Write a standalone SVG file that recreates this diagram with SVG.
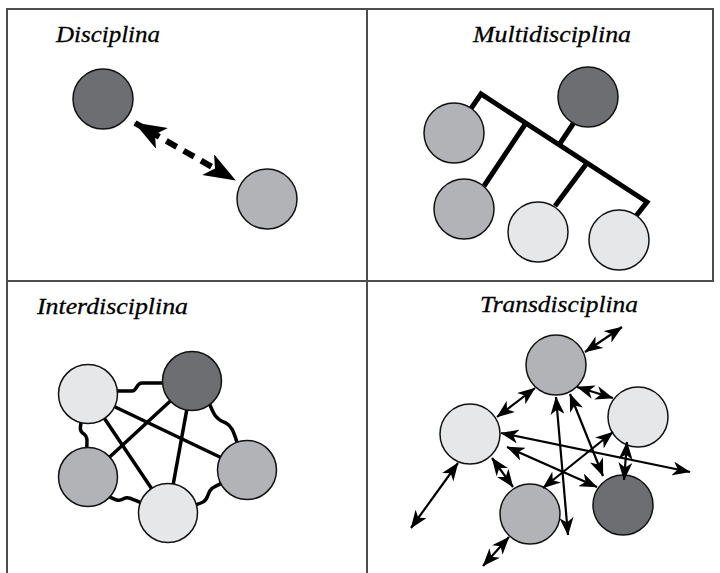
<svg xmlns="http://www.w3.org/2000/svg" width="720" height="573" viewBox="0 0 720 573">
  <style>
    .frame { stroke: #4d4d4d; stroke-width: 2; fill: none; }
    .title { font-family: "Liberation Serif", "Times New Roman", serif; font-style: italic; font-size: 24px; fill: #000; stroke: #000; stroke-width: 0.3; }
    .node { stroke: #111; stroke-width: 1.5; }
    .dark { fill: #6d6e71; }
    .mid { fill: #b1b3b6; }
    .light { fill: #e6e7e8; }
    .bar { stroke: #000; stroke-width: 5; fill: none; stroke-linejoin: miter; }
    .tie { stroke: #000; stroke-width: 3.5; fill: none; stroke-linejoin: round; }
    .arr { stroke: #000; stroke-width: 2.2; fill: none; }
    .dash { stroke: #000; stroke-width: 6; fill: none; stroke-dasharray: 12 8; stroke-dashoffset: 4; }
  </style>
  <defs>
    <marker id="head" markerUnits="userSpaceOnUse" viewBox="0 0 18 14" refX="17.5" refY="7" markerWidth="18" markerHeight="14" orient="auto-start-reverse">
      <path d="M0,0 L18,7 L0,14 L5,7 z" fill="#000"/>
    </marker>
    <marker id="bighead" markerUnits="userSpaceOnUse" viewBox="0 0 32 24" refX="31" refY="12" markerWidth="32" markerHeight="24" orient="auto-start-reverse">
      <path d="M0,0 L32,12 L0,24 L8,12 z" fill="#000"/>
    </marker>
  </defs>

  <rect width="720" height="573" fill="#fff"/>

  <!-- panel frame -->
  <g id="frame">
    <line class="frame" x1="6" y1="9" x2="714" y2="9"/>
    <line class="frame" x1="7" y1="8" x2="7" y2="573"/>
    <line class="frame" x1="713" y1="8" x2="713" y2="282"/>
    <line class="frame" x1="6" y1="281" x2="714" y2="281"/>
    <line class="frame" x1="367" y1="8" x2="367" y2="573"/>
  </g>

  <!-- titles -->
  <g id="titles">
    <text class="title" x="56" y="42" textLength="104" lengthAdjust="spacingAndGlyphs">Disciplina</text>
    <text class="title" x="473" y="42" textLength="158" lengthAdjust="spacingAndGlyphs">Multidisciplina</text>
    <text class="title" x="37" y="314" textLength="151" lengthAdjust="spacingAndGlyphs">Interdisciplina</text>
    <text class="title" x="480" y="312" textLength="158" lengthAdjust="spacingAndGlyphs">Transdisciplina</text>
  </g>

  <!-- connectors -->
  <g id="connectors">
    <!-- disciplina -->
    <line class="dash" x1="135" y1="123" x2="235" y2="180" marker-start="url(#bighead)" marker-end="url(#bighead)"/>

    <!-- multidisciplina tree -->
    <path class="bar" d="M470,110 L481,94 L647,202 L636,216"/>
    <line class="bar" x1="526" y1="123" x2="484" y2="186"/>
    <line class="bar" x1="559" y1="145" x2="575" y2="121"/>
    <line class="bar" x1="587" y1="163" x2="555" y2="206"/>

    <!-- interdisciplina -->
    <path class="tie" d="M112,391 L132,391 C137,391 136,383 142,383 L170,383"/>
    <path class="tie" d="M82,418 C80,428 79,431 84,434 C89,438 86,443 87,452"/>
    <path class="tie" d="M208,400 C213,413 215,419 226,423 C233,427 234,434 238,445"/>
    <path class="tie" d="M106,495 C114,499 118,502 123,499 C129,496 131,499 144,504"/>
    <path class="tie" d="M224,482 C214,487 210,488 208,495 C206,502 202,503 192,506"/>
    <line class="tie" x1="88" y1="394" x2="247" y2="470"/>
    <line class="tie" x1="88" y1="394" x2="168" y2="513"/>
    <line class="tie" x1="192" y1="381" x2="88" y2="477"/>
    <line class="tie" x1="192" y1="381" x2="168" y2="513"/>
  </g>

  <!-- disciplina nodes -->
  <g id="disc-a"><circle class="node dark" cx="103" cy="99" r="30"/></g>
  <g id="disc-b"><circle class="node mid" cx="267" cy="199" r="30"/></g>

  <!-- multidisciplina nodes -->
  <g id="multi-root"><circle class="node dark" cx="588" cy="97" r="30"/></g>
  <g id="multi-a"><circle class="node mid" cx="454" cy="133" r="30"/></g>
  <g id="multi-b"><circle class="node mid" cx="464" cy="209" r="30"/></g>
  <g id="multi-c"><circle class="node light" cx="538" cy="232" r="30"/></g>
  <g id="multi-d"><circle class="node light" cx="619" cy="240" r="30"/></g>

  <!-- interdisciplina nodes -->
  <g id="inter-a"><circle class="node light" cx="88" cy="394" r="29.5"/></g>
  <g id="inter-b"><circle class="node dark" cx="192" cy="381" r="29.5"/></g>
  <g id="inter-c"><circle class="node mid" cx="88" cy="477" r="29.5"/></g>
  <g id="inter-d"><circle class="node mid" cx="247" cy="470" r="29.5"/></g>
  <g id="inter-e"><circle class="node light" cx="168" cy="513" r="29.5"/></g>

  <!-- transdisciplina nodes -->
  <g id="trans-a"><circle class="node mid" cx="556" cy="365" r="30"/></g>
  <g id="trans-b"><circle class="node light" cx="638" cy="417" r="30"/></g>
  <g id="trans-c"><circle class="node light" cx="470" cy="434" r="30"/></g>
  <g id="trans-d"><circle class="node mid" cx="530" cy="514" r="30"/></g>
  <g id="trans-e"><circle class="node dark" cx="623" cy="505" r="30"/></g>

  <!-- transdisciplina two-way arrows -->
  <g id="trans-arrows" marker-start="url(#head)" marker-end="url(#head)">
    <line class="arr" x1="585" y1="352" x2="622" y2="327"/>
    <line class="arr" x1="535" y1="388" x2="497" y2="417"/>
    <line class="arr" x1="577" y1="387" x2="613" y2="398"/>
    <line class="arr" x1="556" y1="397" x2="568" y2="535"/>
    <line class="arr" x1="570" y1="394" x2="603" y2="476"/>
    <line class="arr" x1="627" y1="442" x2="624" y2="480"/>
    <line class="arr" x1="613" y1="432" x2="543" y2="488"/>
    <line class="arr" x1="501" y1="433" x2="690" y2="472"/>
    <line class="arr" x1="507" y1="447" x2="597" y2="487"/>
    <line class="arr" x1="492" y1="458" x2="513" y2="487"/>
    <line class="arr" x1="458" y1="463" x2="411" y2="528"/>
    <line class="arr" x1="509" y1="537" x2="483" y2="566"/>
  </g>
</svg>
